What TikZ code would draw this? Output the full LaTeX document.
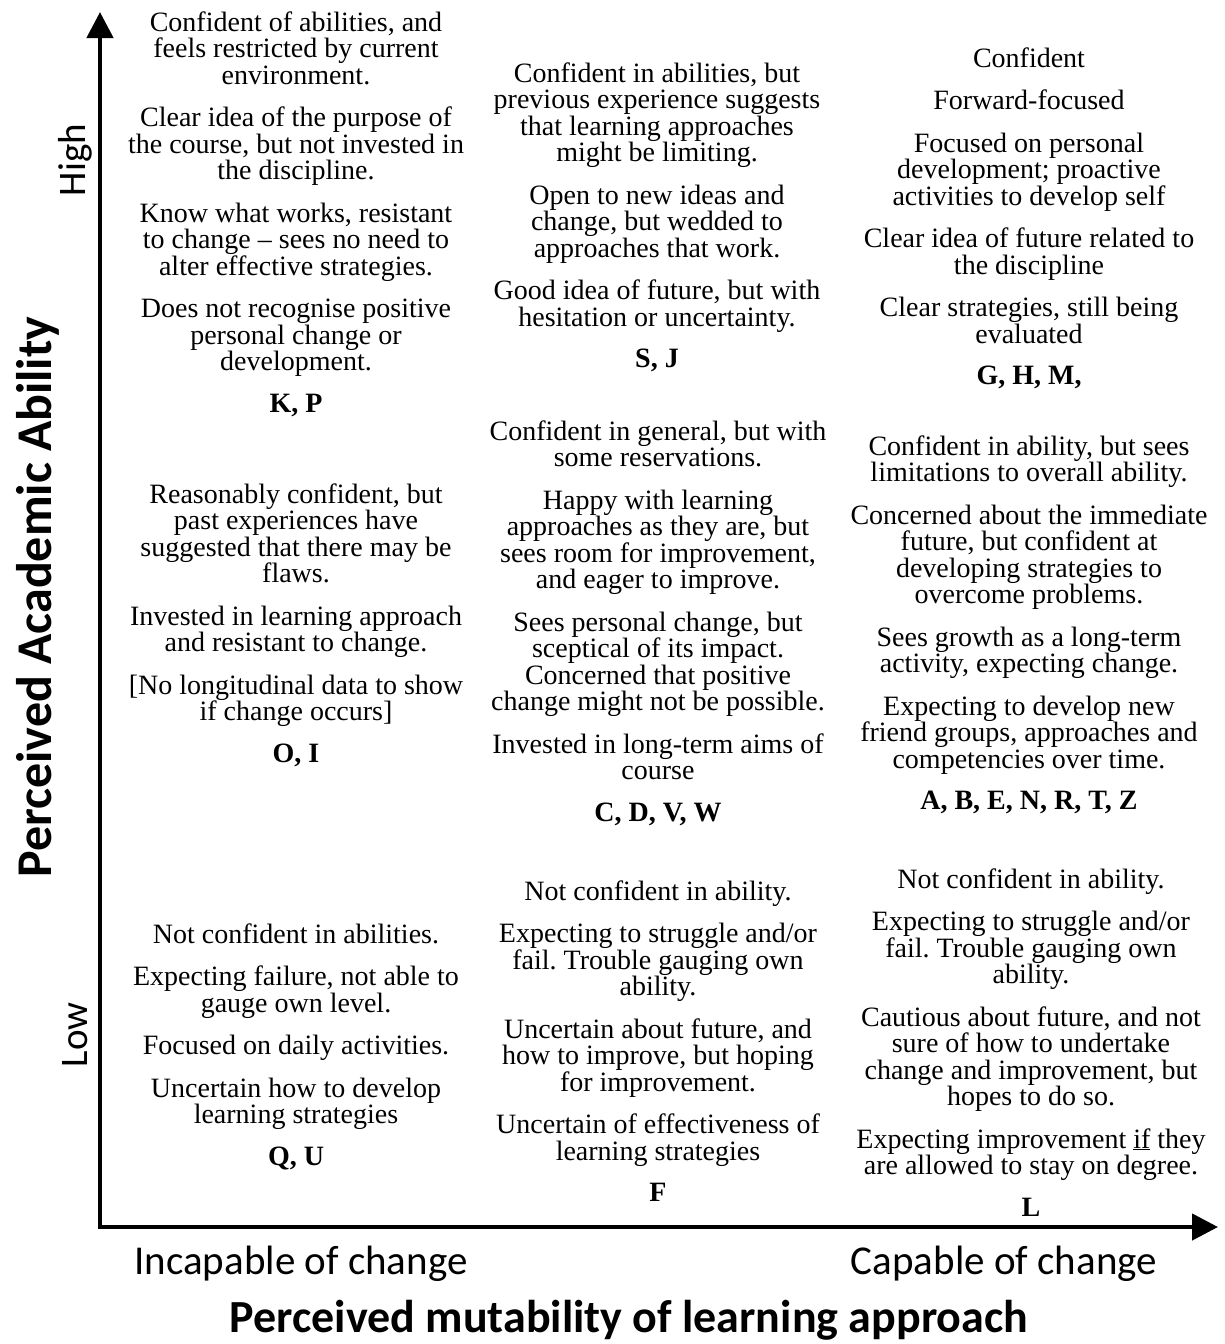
\documentclass[tikz,border=0pt]{standalone}
\usepackage{fontspec}
\setmainfont{Liberation Serif}
\newfontfamily\calibri{Carlito}
\usetikzlibrary{arrows.meta}
\frenchspacing

% body text of the nine cells: tight, fixed line spacing
\newcommand\celltext{\fontsize{28}{26.5}\selectfont\lineskiplimit=-100pt\lineskip=0pt}
\newcommand\cellbox[1]{\parbox[t]{420pt}{\centering #1}}
\newcommand\pgap{\\[16pt]}
\newcommand\lgap{\\[15pt]}

\begin{document}
\begin{tikzpicture}[x=1pt,y=-1pt,
  cell/.style={anchor=base, inner sep=0pt, font=\celltext},
  levellabel/.style={font=\calibri\fontsize{39}{44}\selectfont, inner sep=0pt},
  axislabel/.style={font=\calibri\fontsize{41}{46}\selectfont, inner sep=0pt},
  axistitle/.style={font=\calibri\bfseries\fontsize{46}{52}\selectfont, inner sep=0pt},
  axisline/.style={line width=4.5pt,
    {Triangle[width=26pt,length=26pt]}-{Triangle[width=26pt,length=26pt]}}
]
\useasboundingbox (0,0) rectangle (1224,1344);

% axes
\coordinate (origin) at (100,1227);
\coordinate (ytip) at (100,12);
\coordinate (xtip) at (1218,1227);
\draw[axisline] (ytip) -- (origin) -- (xtip);

% axis labels
\node[levellabel, rotate=90] (high) at (75,160) {High};
\node[levellabel, rotate=90] (low) at (75,1035) {Low};
\node[axistitle, rotate=90, font=\calibri\bfseries\fontsize{50}{56}\selectfont] (ytitle) at (38,597) {Perceived Academic Ability};
\node[axislabel] (incap) at (301,1264) {Incapable of change};
\node[axislabel] (cap) at (1004,1264) {Capable of change};
\node[axistitle] (xtitle) at (629,1320) {Perceived mutability of learning approach};

% high ability row
\node[cell] (tl) at (296,31) {\cellbox{%
  Confident of abilities, and\\ feels restricted by current\\ environment.\pgap
  Clear idea of the purpose of\\ the course, but not invested in\\ the discipline.\pgap
  Know what works, resistant\\ to change -- sees no need to\\ alter effective strategies.\pgap
  Does not recognise positive\\ personal change or\\ development.\lgap
  \textbf{K, P}}};

\node[cell] (tm) at (657,82) {\cellbox{%
  Confident in abilities, but\\ previous experience suggests\\ that learning approaches\\ might be limiting.\pgap
  Open to new ideas and\\ change, but wedded to\\ approaches that work.\pgap
  Good idea of future, but with\\ hesitation or uncertainty.\lgap
  \textbf{S, J}}};

\node[cell] (tr) at (1029,67) {\cellbox{%
  Confident\pgap
  Forward-focused\pgap
  Focused on personal\\ development; proactive\\ activities to develop self\pgap
  Clear idea of future related to\\ the discipline\pgap
  Clear strategies, still being\\ evaluated\lgap
  \textbf{G, H, M,}}};

% middle row
\node[cell] (ml) at (296,503) {\cellbox{%
  Reasonably confident, but\\ past experiences have\\ suggested that there may be\\ flaws.\pgap
  Invested in learning approach\\ and resistant to change.\pgap
  [No longitudinal data to show\\ if change occurs]\lgap
  \textbf{O, I}}};

\node[cell] (mm) at (658,440) {\cellbox{%
  Confident in general, but with\\ some reservations.\pgap
  Happy with learning\\ approaches as they are, but\\ sees room for improvement,\\ and eager to improve.\pgap
  Sees personal change, but\\ sceptical of its impact.\\ Concerned that positive\\ change might not be possible.\pgap
  Invested in long-term aims of\\ course\lgap
  \textbf{C, D, V, W}}};

\node[cell] (mr) at (1029,455) {\cellbox{%
  Confident in ability, but sees\\ limitations to overall ability.\pgap
  Concerned about the immediate\\ future, but confident at\\ developing strategies to\\ overcome problems.\pgap
  Sees growth as a long-term\\ activity, expecting change.\pgap
  Expecting to develop new\\ friend groups, approaches and\\ competencies over time.\lgap
  \textbf{A, B, E, N, R, T, Z}}};

% low ability row
\node[cell] (bl) at (296,943) {\cellbox{%
  Not confident in abilities.\pgap
  Expecting failure, not able to\\ gauge own level.\pgap
  Focused on daily activities.\pgap
  Uncertain how to develop\\ learning strategies\lgap
  \textbf{Q, U}}};

\node[cell] (bm) at (658,900) {\cellbox{%
  Not confident in ability.\pgap
  Expecting to struggle and/or\\ fail. Trouble gauging own\\ ability.\pgap
  Uncertain about future, and\\ how to improve, but hoping\\ for improvement.\pgap
  Uncertain of effectiveness of\\ learning strategies\lgap
  \textbf{F}}};

\node[cell] (br) at (1031,888) {\cellbox{%
  Not confident in ability.\pgap
  Expecting to struggle and/or\\ fail. Trouble gauging own\\ ability.\pgap
  Cautious about future, and not\\ sure of how to undertake\\ change and improvement, but\\ hopes to do so.\pgap
  Expecting improvement \underline{if} they\\ are allowed to stay on degree.\lgap
  \textbf{L}}};
\end{tikzpicture}
\end{document}
